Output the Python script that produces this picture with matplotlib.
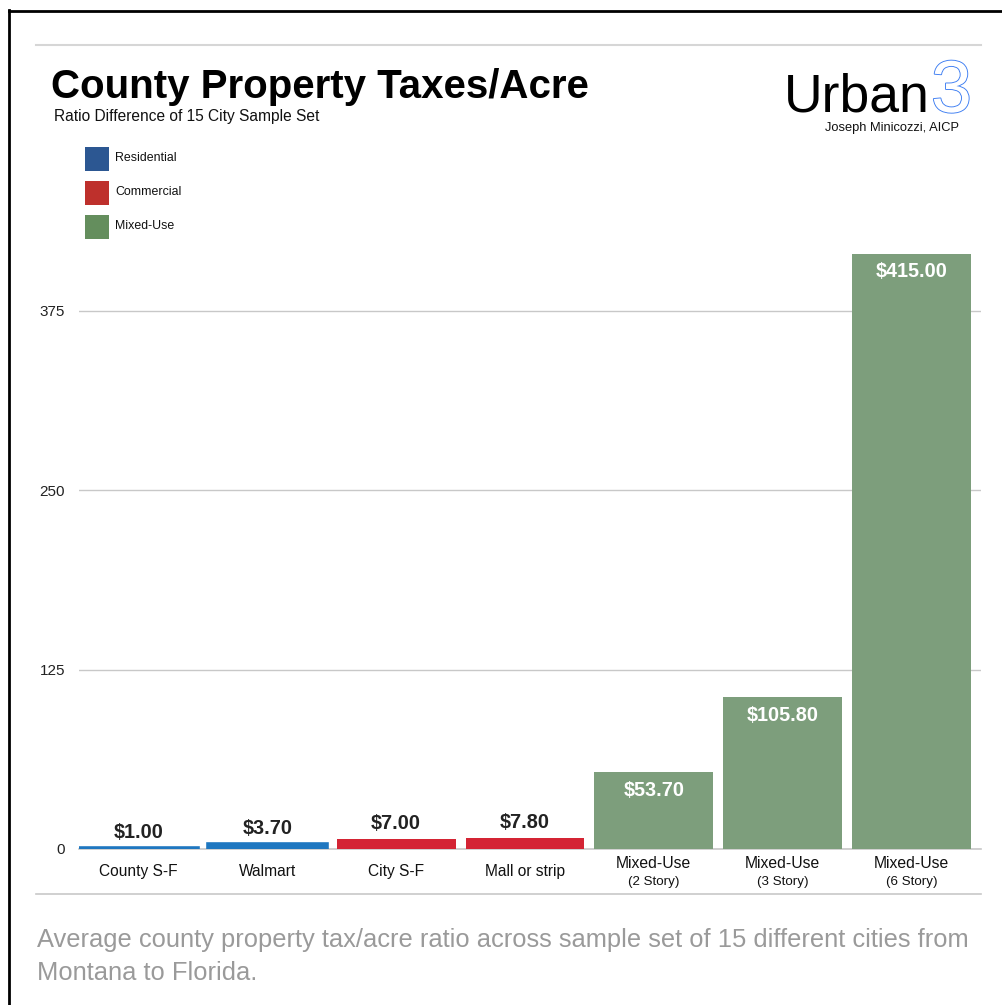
#!/usr/bin/env python3
"""County property taxes per acre - bar chart recreation"""

import matplotlib
matplotlib.use('Agg')
import matplotlib.pyplot as plt
import matplotlib.patheffects as pe
from matplotlib.lines import Line2D
from matplotlib.patches import Rectangle

plt.rcParams['font.family'] = ['Liberation Sans', 'DejaVu Sans']

# data
categories = ['County S-F', 'Walmart', 'City S-F', 'Mall or strip',
              'Mixed-Use', 'Mixed-Use', 'Mixed-Use']
sublabels = ['', '', '', '', '(2 Story)', '(3 Story)', '(6 Story)']
values = [1.00, 3.70, 7.00, 7.80, 53.70, 105.80, 415.00]
groups = ['Residential', 'Residential', 'Commercial', 'Commercial',
          'Mixed-Use', 'Mixed-Use', 'Mixed-Use']
y_ticks = [0, 125, 250, 375]
legend_labels = ['Residential', 'Commercial', 'Mixed-Use']

bar_colors = {'Residential': '#1f77c0', 'Commercial': '#d42434', 'Mixed-Use': '#7d9e7c'}
legend_colors = {'Residential': '#2c5792', 'Commercial': '#be302c', 'Mixed-Use': '#648e5d'}

W, H = 1002, 1005
fig = plt.figure(figsize=(W / 100, H / 100), dpi=100)
fig.patch.set_facecolor('white')


def fx(px):
    return px / W


def fy(py):
    return 1 - py / H


# axes placement in pixels
ax = fig.add_axes([fx(79), fy(849), fx(981) - fx(79), (849 - 232) / H])

xs = list(range(len(values)))
bars = ax.bar(xs, values, width=0.922, align='edge',
              color=[bar_colors[g] for g in groups], zorder=2)
# very thin bars get drawn a bit thicker so they stay visible (as in the original)
for b, v, g in zip(bars, values, groups):
    if v < 5:
        b.set_edgecolor(bar_colors[g])
        b.set_linewidth(2.6)

ax.set_xlim(0, 7)
ax.set_ylim(0, 430)
ax.set_yticks(y_ticks)
ax.set_yticklabels([str(t) for t in y_ticks], fontsize=11, color='#222222')
ax.tick_params(axis='y', length=0, pad=10)
ax.tick_params(axis='x', length=0)
ax.set_xticks([])
ax.yaxis.grid(True, color='#c8c8c8', linewidth=1)
ax.set_axisbelow(True)
for s in ['top', 'right', 'left']:
    ax.spines[s].set_visible(False)
ax.spines['bottom'].set_color('#c8c8c8')
ax.spines['bottom'].set_linewidth(1.2)
ax.spines['bottom'].set_zorder(1)

# value labels
for x, v in zip(xs, values):
    cx = x + 0.461
    if v > 40:
        ax.annotate(f'${v:.2f}', (cx, v), xytext=(0, -13), textcoords='offset points',
                    ha='center', va='center', color='white', fontsize=14.3,
                    fontweight='bold')
    else:
        ax.annotate(f'${v:.2f}', (cx, v), xytext=(0, 11), textcoords='offset points',
                    ha='center', va='center', color='#222222', fontsize=14.3,
                    fontweight='bold')

# category labels
for x, c, sub in zip(xs, categories, sublabels):
    cx = x + 0.461
    if sub:
        ax.annotate(c, (cx, 0), xytext=(0, -10.5), textcoords='offset points',
                    ha='center', va='center', fontsize=11.3, color='#111111')
        ax.annotate(sub, (cx, 0), xytext=(0, -23.5), textcoords='offset points',
                    ha='center', va='center', fontsize=9.6, color='#111111')
    else:
        ax.annotate(c, (cx, 0), xytext=(0, -16.5), textcoords='offset points',
                    ha='center', va='center', fontsize=11.2, color='#111111')

# frame lines
fig.add_artist(Line2D([fx(9), fx(9)], [fy(10), 0], color='black', linewidth=2))
fig.add_artist(Line2D([fx(9), 1], [fy(11), fy(11)], color='black', linewidth=2))
fig.add_artist(Line2D([fx(36), fx(981)], [fy(45), fy(45)], color='#d6d6d6', linewidth=1.5))
fig.add_artist(Line2D([fx(36), fx(981)], [fy(894), fy(894)], color='#c8c8c8', linewidth=1.2))

# titles
fig.text(fx(51), fy(87), 'County Property Taxes/Acre', fontsize=29, fontweight='bold',
         ha='left', va='center', color='black')
fig.text(fx(54), fy(116), 'Ratio Difference of 15 City Sample Set', fontsize=11.2,
         ha='left', va='center', color='#111111')

# legend
for i, lab in enumerate(legend_labels):
    top = 147 + i * 34
    fig.add_artist(Rectangle((fx(85), fy(top + 24)), fx(24), 24 / H,
                             facecolor=legend_colors[lab], edgecolor='none'))
    fig.text(fx(115), fy(top + 11), lab, fontsize=8.9, ha='left', va='center',
             color='#111111')

# logo
fig.text(fx(930), fy(112), 'Urban', fontsize=38.5, ha='right', va='baseline', color='black')
fig.text(fx(931), fy(112), '3', fontsize=53, ha='left', va='baseline', color='white',
         path_effects=[pe.withStroke(linewidth=1.3, foreground='#3b7cf2')])
fig.text(fx(959), fy(128), 'Joseph Minicozzi, AICP', fontsize=9.3, ha='right', va='center',
         color='#111111')

# caption
fig.text(fx(37), fy(940), 'Average county property tax/acre ratio across sample set of 15 different cities from',
         fontsize=18.4, ha='left', va='center', color='#9a9a9a')
fig.text(fx(37), fy(973), 'Montana to Florida.',
         fontsize=18.4, ha='left', va='center', color='#9a9a9a')

fig.savefig('out.png', dpi=100, facecolor='white')
